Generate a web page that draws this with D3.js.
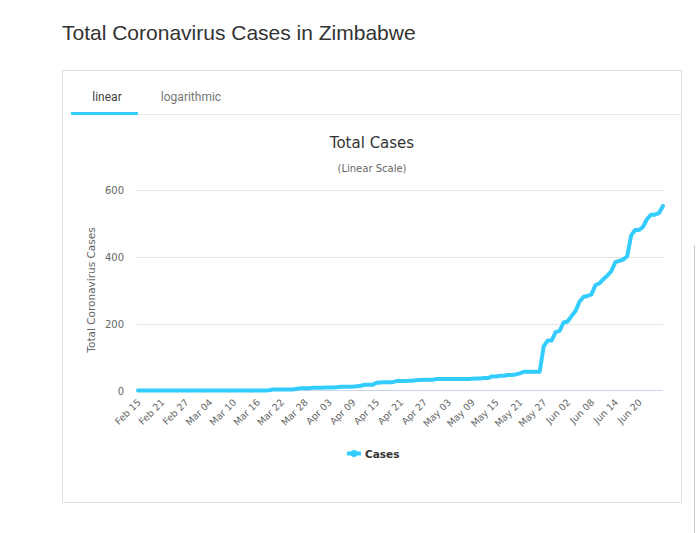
<!DOCTYPE html>
<html><head><meta charset="utf-8">
<script src="https://cdn.jsdelivr.net/npm/d3@7"></script>
<style>
body{margin:0;background:#fff;}
svg{display:block;}
</style></head>
<body>
<svg id="c" width="696" height="533"></svg>
<script>
// ---- data ----
const startDate = "2020-02-15";
const cases = [
 0,0,0,0,0,0,0,0,0,0,0,0,0,0,0,0,0,0,0,0,0,0,0,0,0,0,0,0,0,0,0,0,0,
 1,
 3,3,3,3,3,3,
 5,
 7,7,7,
 8,8,8,
 9,9,9,
 10,
 11,11,11,11,
 13,
 14,
 17,17,17,
 23,
 24,
 25,25,25,
 28,28,28,
 29,29,
 31,31,
 32,32,32,
 34,
 34,34,34,34,34,34,34,34,
 35,
 36,36,
 37,37,
 42,42,
 44,44,
 46,46,
 48,
 51,
 56,56,56,56,56,
 132,
 149,149,
 174,
 178,
 203,
 206,
 222,
 237,
 265,
 279,
 282,
 287,
 314,
 320,
 332,
 343,
 356,
 383,
 387,
 391,
 401,
 463,
 479,
 479,
 489,
 512,
 525,
 525,
 530,
 551
];
const yTicks = [0, 200, 400, 600];
const tickEvery = 6;
const seriesName = "Cases";

// ---- derived categories ----
const parse = d3.timeParse("%Y-%m-%d");
const fmt = d3.timeFormat("%b %d");
const d0 = parse(startDate);
const dates = cases.map((_, i) => fmt(d3.timeDay.offset(d0, i)));

const svg = d3.select("#c");
const COLOR = "#33ccff";

// page title
svg.append("text").attr("x", 62).attr("y", 40)
  .attr("font-family", "Liberation Sans, Arial, sans-serif").attr("font-size", 21)
  .attr("fill", "#333").text("Total Coronavirus Cases in Zimbabwe");

// panel
svg.append("rect").attr("x", 62.5).attr("y", 70.5).attr("width", 619).attr("height", 432)
  .attr("fill", "none").attr("stroke", "#ddd");
svg.append("line").attr("x1", 694.5).attr("x2", 694.5).attr("y1", 245).attr("y2", 533)
  .attr("stroke", "#ccc");

// tabs
svg.append("line").attr("x1", 71).attr("x2", 682).attr("y1", 114.5).attr("y2", 114.5)
  .attr("stroke", "#e8e8e8");
svg.append("rect").attr("x", 71).attr("y", 112).attr("width", 67).attr("height", 3).attr("fill", COLOR);
svg.append("text").attr("x", 107).attr("y", 101).attr("text-anchor", "middle")
  .attr("font-family", "Roboto, sans-serif").attr("font-size", 12).attr("fill", "#444").text("linear");
svg.append("text").attr("x", 191).attr("y", 101).attr("text-anchor", "middle")
  .attr("font-family", "Roboto, sans-serif").attr("font-size", 12).attr("fill", "#777").text("logarithmic");

// chart titles
const hf = "DejaVu Sans, Verdana, sans-serif";
svg.append("text").attr("x", 372).attr("y", 148).attr("text-anchor", "middle")
  .attr("font-family", hf).attr("font-size", 15).attr("fill", "#333").text("Total Cases");
svg.append("text").attr("x", 372).attr("y", 172).attr("text-anchor", "middle")
  .attr("font-family", hf).attr("font-size", 10).attr("fill", "#666").text("(Linear Scale)");

// scales
const x = d3.scalePoint().domain(dates).range([138, 663]);
const y = d3.scaleLinear().domain([0, 600]).range([390.5, 189.5]);

// grid
svg.append("g").selectAll("line").data(yTicks.filter(t => t > 0)).join("line")
  .attr("x1", 137).attr("x2", 663).attr("y1", d => Math.round(y(d)) + 0.5).attr("y2", d => Math.round(y(d)) + 0.5)
  .attr("stroke", "#e6e6e6");

// y axis labels
const yAxis = d3.axisLeft(y).tickValues(yTicks).tickSize(0).tickPadding(0);
const gy = svg.append("g").attr("transform", "translate(124,0)").call(yAxis);
gy.select(".domain").remove();
gy.selectAll("text").attr("font-family", hf).attr("font-size", 10).attr("fill", "#666").attr("dy", "0.35em");

svg.append("text").attr("transform", "translate(95,290) rotate(-90)").attr("text-anchor", "middle")
  .attr("font-family", hf).attr("font-size", 10.5).attr("fill", "#666").text("Total Coronavirus Cases");

// x axis line
svg.append("line").attr("x1", 137).attr("x2", 663).attr("y1", 390.5).attr("y2", 390.5).attr("stroke", "#ccd6eb");

// x labels
const xt = dates.filter((d, i) => i % tickEvery === 0 && i < dates.length - 1);
const xAxis = d3.axisBottom(x).tickValues(xt).tickSize(0).tickPadding(0);
const gx = svg.append("g").attr("transform", "translate(0,390)").call(xAxis);
gx.select(".domain").remove();
gx.selectAll("text").attr("font-family", hf).attr("font-size", 9.5).attr("fill", "#666")
  .attr("text-anchor", "end").attr("dy", null).attr("y", null)
  .attr("transform", "translate(3,13) rotate(-45)");

// line
const line = d3.line().x((d, i) => x(dates[i])).y(d => y(d));
svg.append("path").datum(cases).attr("d", line).attr("fill", "none")
  .attr("stroke", COLOR).attr("stroke-width", 4).attr("stroke-linejoin", "round").attr("stroke-linecap", "round");

// legend
svg.append("line").attr("x1", 347).attr("x2", 361).attr("y1", 453.5).attr("y2", 453.5)
  .attr("stroke", COLOR).attr("stroke-width", 4);
svg.append("circle").attr("cx", 354).attr("cy", 453.5).attr("r", 3.5).attr("fill", COLOR);
svg.append("text").attr("x", 365).attr("y", 457.5)
  .attr("font-family", hf).attr("font-size", 10.5).attr("font-weight", "bold").attr("fill", "#333").text(seriesName);
</script>
</body></html>
